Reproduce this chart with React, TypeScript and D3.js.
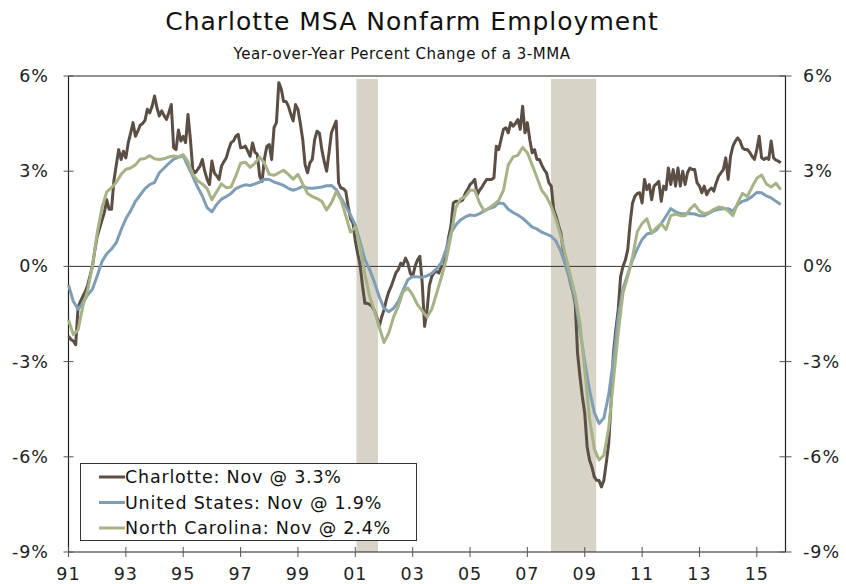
import * as d3 from "d3";

// monthly, Jan 1991 - Nov 2015
const charlotte = [
  -2.2, -2.3, -2.35, -2.47, -1.3, -1.1, -0.95, -0.8, -0.6, -0.3, 0.0, 0.5,
  0.95, 1.2, 1.45, 1.7, 2.1, 1.8, 1.8, 2.7, 3.2, 3.68, 3.37, 3.63,
  3.42, 3.9, 4.2, 4.53, 4.1, 4.26, 4.45, 4.5, 4.6, 4.95, 4.84, 5.05,
  5.37, 5.0, 4.74, 4.9, 4.75, 4.63, 4.85, 5.1, 3.74, 3.68, 4.3, 3.95,
  4.1, 3.9, 4.79, 4.0, 3.05, 2.95, 3.05, 3.16, 3.37, 3.0, 2.74, 2.58,
  3.32, 2.95, 2.85, 2.74, 3.16, 3.3, 3.42, 3.68, 3.9, 3.95, 4.1, 4.16,
  3.74, 3.75, 3.79, 3.63, 3.47, 3.89, 3.6, 3.53, 2.84, 2.68, 3.4, 3.79,
  3.84, 3.37, 4.37, 4.53, 5.79, 5.6, 5.2, 5.2, 5.05, 4.8, 4.58, 5.1,
  4.95, 4.5, 4.0, 3.2, 2.95, 3.26, 3.37, 4.0, 4.26, 4.2, 3.68, 3.3,
  3.0, 3.58, 4.21, 4.4, 4.58, 2.63, 2.47, 2.45, 2.37, 1.9, 1.5, 1.37,
  0.8, 0.4, 0.05, -0.6, -1.16, -1.16, -1.2, -1.26, -1.4, -1.6, -1.89, -1.6,
  -1.37, -1.05, -0.8, -0.63, -0.42, -0.2, -0.1, 0.1, 0.05, 0.26, 0.1, -0.21,
  -0.32, 0.0, 0.2, 0.32, -0.53, -1.89, -1.4, -0.6, -0.32, -0.2, -0.16, -0.21,
  0.0, 0.0, 0.42, 0.9, 1.26, 2.0, 2.05, 2.05, 2.05, 2.1, 2.3, 2.42,
  2.58, 2.65, 2.74, 2.26, 2.4, 2.5, 2.63, 2.74, 2.74, 2.74, 2.79, 3.79,
  3.68, 4.0, 4.32, 4.37, 4.21, 4.53, 4.42, 4.5, 4.63, 4.32, 5.05, 4.21,
  4.53, 4.0, 3.58, 3.68, 3.37, 3.37, 3.2, 3.05, 2.95, 2.63, 2.53, 1.79,
  1.58, 1.3, 1.05, 0.53, 0.25, 0.0, -0.53, -0.8, -1.16, -2.74, -3.47, -4.1,
  -4.63, -5.68, -6.1, -6.32, -6.63, -6.74, -6.75, -6.95, -6.74, -6.2, -5.6, -4.32,
  -2.74, -2.0, -1.37, -0.32, 0.0, 0.2, 0.53, 1.37, 2.0, 2.21, 2.3, 2.32,
  2.0, 2.74, 2.42, 2.58, 2.1, 2.53, 2.6, 2.68, 2.05, 2.53, 2.42, 3.1,
  2.58, 3.05, 2.53, 3.1, 2.53, 3.0, 2.58, 2.95, 3.1, 3.05, 3.05, 2.63,
  2.53, 2.32, 2.53, 2.26, 2.4, 2.47, 2.37, 2.63, 2.84, 2.95, 3.05, 3.42,
  2.74, 3.47, 3.79, 3.95, 4.05, 3.95, 3.74, 3.68, 3.68, 3.6, 3.47, 3.37,
  3.68, 4.1, 3.42, 3.37, 3.42, 3.37, 3.95, 3.42, 3.35, 3.32, 3.26,
];

// every other month (Jan, Mar, May...), Jan 1991 - Nov 2015
const unitedStates = [
  -0.58, -1.1, -1.35, -1.15, -0.9, -0.72,
  -0.3, 0.15, 0.4, 0.55, 0.75, 1.15,
  1.5, 1.75, 2.05, 2.25, 2.45, 2.58,
  2.65, 2.95, 3.1, 3.25, 3.38, 3.44,
  3.48, 3.15, 2.84, 2.5, 2.22, 1.85,
  1.72, 1.95, 2.12, 2.2, 2.3, 2.45,
  2.52, 2.57, 2.55, 2.6, 2.66, 2.75,
  2.74, 2.66, 2.61, 2.55, 2.46, 2.4,
  2.45, 2.52, 2.47, 2.46, 2.48, 2.5,
  2.54, 2.55, 2.42, 2.16, 1.9, 1.62,
  1.3, 0.78, 0.22, -0.1, -0.5, -0.95,
  -1.32, -1.43, -1.32, -1.1, -0.75, -0.42,
  -0.32, -0.33, -0.34, -0.3, -0.22, -0.08,
  0.12, 0.53, 1.05, 1.3, 1.46, 1.56,
  1.62, 1.6, 1.66, 1.76, 1.82, 1.87,
  2.0, 1.98, 1.8, 1.7, 1.62, 1.52,
  1.38, 1.24, 1.18, 1.08, 1.02, 0.95,
  0.79, 0.47, 0.02, -0.5, -1.05, -2.0,
  -3.0, -3.9, -4.6, -4.95, -4.78, -4.05,
  -2.95, -1.6, -0.7, -0.25, 0.2, 0.55,
  0.85, 1.02, 1.05, 1.15, 1.35, 1.58,
  1.82, 1.72, 1.66, 1.66, 1.67, 1.65,
  1.6, 1.6, 1.68, 1.76, 1.8, 1.82,
  1.82, 1.74, 1.95, 2.05, 2.1, 2.2,
  2.33, 2.32, 2.22, 2.16, 2.05, 1.95,
];

const northCarolina = [
  -1.68, -2.15, -2.0, -1.26, -0.75, 0.0,
  1.05, 1.85, 2.35, 2.48, 2.65, 2.9,
  3.06, 3.1, 3.2, 3.38, 3.4, 3.49,
  3.39, 3.37, 3.39, 3.45, 3.48, 3.45,
  3.52, 3.3, 2.9, 2.7, 2.6, 2.45,
  2.1, 2.35, 2.6, 2.48, 2.5, 2.85,
  3.25, 3.28, 3.12, 3.25, 3.45, 3.25,
  2.9, 2.87, 2.95, 3.03, 2.9, 2.75,
  2.9, 2.6, 2.3, 2.2, 2.14, 2.05,
  1.78, 2.0, 2.35, 2.1, 1.6, 1.08,
  1.25, 0.6, -0.25, -0.95, -1.4, -1.9,
  -2.4, -2.1, -1.6, -1.25, -0.8, -0.68,
  -0.9, -1.2, -1.4, -1.6, -1.35, -0.85,
  -0.35, 0.2, 0.95, 1.85, 2.12, 2.2,
  2.4, 2.4, 2.0, 1.74, 1.84, 1.95,
  2.08, 2.4, 3.2, 3.45, 3.5, 3.75,
  3.58, 3.2, 2.8, 2.4, 2.2, 1.89,
  1.47, 0.95, 0.32, -0.3, -0.9, -1.8,
  -3.26, -4.8, -5.75, -6.1, -5.95, -5.1,
  -3.6, -2.1, -0.84, -0.32, 0.3, 1.1,
  1.35, 1.5, 1.05, 1.22, 1.35, 1.16,
  1.6, 1.65, 1.6, 1.6, 1.8, 1.95,
  1.74, 1.66, 1.7, 1.8, 1.87, 1.85,
  1.75, 1.6, 2.0, 2.3, 2.2, 2.5,
  2.78, 2.88, 2.6, 2.5, 2.62, 2.42,
];

const recessions = [
  [2001.04, 2001.79],
  [2007.82, 2009.4],
];
const yTicks = [-9, -6, -3, 0, 3, 6];
const xTicks = d3.range(1991, 2016, 2);
const seriesNames = [
  "Charlotte: Nov @ 3.3%",
  "United States: Nov @ 1.9%",
  "North Carolina: Nov @ 2.4%",
];
const colors = ["#5b4e44", "#7f9eb6", "#a6b387"];

const font = "'DejaVu Sans', Verdana, sans-serif";

export default function App() {
  const width = 846;
  const height = 584;
  const left = 68.5;
  const right = 785.5;
  const top = 76;
  const bottom = 552;

  const x = d3.scaleLinear().domain([1991, 2016]).range([left, right]);
  const y = d3.scaleLinear().domain([-9, 6]).range([bottom, top]);

  const toPoints = (vals: number[], step: number) =>
    vals.map((v, i) => [1991 + (i * step) / 12, v] as [number, number]);

  const line = d3
    .line<[number, number]>()
    .x((d) => x(d[0]))
    .y((d) => y(d[1]));

  const series = [
    toPoints(charlotte, 1),
    toPoints(unitedStates, 2),
    toPoints(northCarolina, 2),
  ];

  return (
    <svg
      width={width}
      height={height}
      style={{ position: "absolute", left: 0, top: 0, background: "#fff" }}
      fontFamily={font}
    >
      <text x={412} y={30} textAnchor="middle" fontSize={25} letterSpacing={1} fill="#111">
        Charlotte MSA Nonfarm Employment
      </text>
      <text x={402} y={59} textAnchor="middle" fontSize={15} letterSpacing={0.5} fill="#111">
        Year-over-Year Percent Change of a 3-MMA
      </text>

      {recessions.map(([a, b], i) => (
        <rect
          key={i}
          x={x(a)}
          y={top + 3}
          width={x(b) - x(a)}
          height={bottom - top - 3}
          fill="#d7d3c7"
        />
      ))}

      {/* frame */}
      <line x1={left} x2={right} y1={top} y2={top} stroke="#222" strokeWidth={1} />
      <line x1={left} x2={left} y1={top} y2={bottom} stroke="#222" strokeWidth={1.2} />
      <line x1={right} x2={right} y1={top} y2={bottom} stroke="#222" strokeWidth={1.2} />
      <line x1={left} x2={right} y1={bottom} y2={bottom} stroke="#222" strokeWidth={1.2} />
      <line x1={left} x2={right} y1={y(0)} y2={y(0)} stroke="#333" strokeWidth={1} />

      {yTicks.map((t) => (
        <g key={t}>
          <line x1={left - 5} x2={left + 5} y1={y(t)} y2={y(t)} stroke="#555" />
          <line x1={right - 6} x2={right + 6} y1={y(t)} y2={y(t)} stroke="#555" />
          <text x={49} y={y(t) + 6} textAnchor="end" fontSize={17.5} letterSpacing={1} fill="#222">
            {t}%
          </text>
          <text x={803} y={y(t) + 6} textAnchor="start" fontSize={17.5} letterSpacing={1} fill="#222">
            {t}%
          </text>
        </g>
      ))}

      {xTicks.map((t) => (
        <g key={t}>
          <line x1={x(t)} x2={x(t)} y1={bottom - 5} y2={bottom + 5} stroke="#555" />
          <text x={x(t)} y={580} textAnchor="middle" fontSize={17.5} letterSpacing={1} fill="#222">
            {String(t % 100).padStart(2, "0")}
          </text>
        </g>
      ))}

      {series.map((pts, i) => (
        <path
          key={i}
          d={line(pts) || ""}
          fill="none"
          stroke={colors[i]}
          strokeWidth={3}
          strokeLinejoin="round"
        />
      ))}

      {/* legend */}
      <rect x={80.5} y={463.5} width={336} height={77} fill="#fff" stroke="#333" />
      {seriesNames.map((name, i) => (
        <g key={name}>
          <line
            x1={99}
            x2={125}
            y1={477 + i * 25.5}
            y2={477 + i * 25.5}
            stroke={colors[i]}
            strokeWidth={3}
          />
          <text x={125} y={477 + i * 25.5 + 6} fontSize={17.5} letterSpacing={0.8} fill="#111">
            {name}
          </text>
        </g>
      ))}
    </svg>
  );
}
